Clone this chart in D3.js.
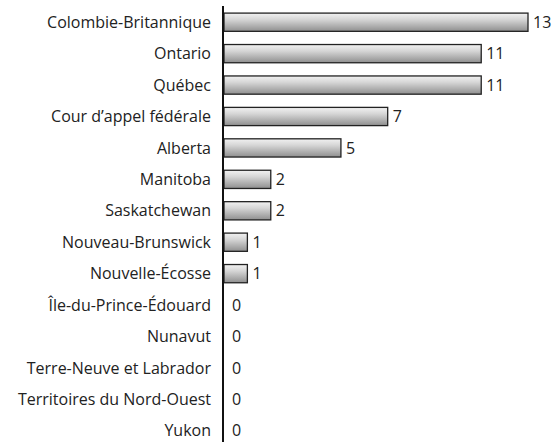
<!DOCTYPE html>
<html>
<head>
<meta charset="utf-8">
<script src="https://cdn.jsdelivr.net/npm/d3@7"></script>
<style>
  body { margin: 0; background: #fff; }
  text { font-family: "Open Sans", sans-serif; fill: #222; }
</style>
</head>
<body>
<svg id="chart" width="555" height="442"></svg>
<script>
const categories = [
    'Colombie-Britannique', 'Ontario', 'Québec', 'Cour d\u2019appel fédérale',
    'Alberta', 'Manitoba', 'Saskatchewan', 'Nouveau-Brunswick', 'Nouvelle-Écosse',
    'Île-du-Prince-Édouard', 'Nunavut', 'Terre-Neuve et Labrador',
    'Territoires du Nord-Ouest', 'Yukon'
];
const values = [13, 11, 11, 7, 5, 2, 2, 1, 1, 0, 0, 0, 0, 0];

const svg = d3.select('#chart');
const x0 = 224;

const x = d3.scaleLinear().domain([0, 13]).range([x0, 528]);
const y = d3.scaleBand().domain(categories).range([6.5, 446.5]);

// bar gradient: light on top, darker at the bottom
const grad = svg.append('defs').append('linearGradient')
    .attr('id', 'barGrad')
    .attr('x1', 0).attr('y1', 0).attr('x2', 0).attr('y2', 1);
grad.append('stop').attr('offset', '0%').attr('stop-color', '#f2f2f2');
grad.append('stop').attr('offset', '35%').attr('stop-color', '#d6d6d6');
grad.append('stop').attr('offset', '100%').attr('stop-color', '#8f8f8f');

const barH = y.bandwidth() * 0.58;

const rows = svg.selectAll('g.row')
    .data(categories)
    .join('g')
    .attr('class', 'row')
    .attr('transform', d => `translate(0,${y(d) + y.bandwidth() / 2})`);

rows.filter((d, i) => values[i] > 0)
    .append('rect')
    .attr('x', x(0))
    .attr('y', -barH / 2)
    .attr('width', d => x(values[categories.indexOf(d)]) - x(0))
    .attr('height', barH)
    .attr('fill', 'url(#barGrad)')
    .attr('stroke', '#222')
    .attr('stroke-width', 1.3);

rows.append('text')
    .attr('x', 211)
    .attr('dy', '0.35em')
    .attr('text-anchor', 'end')
    .style('font-size', '16px')
    .text(d => d);

rows.append('text')
    .attr('x', (d, i) => x(values[i]) + (values[i] > 0 ? 5 : 8))
    .attr('dy', '0.35em')
    .style('font-size', '16px')
    .text((d, i) => values[i]);

// axis line
svg.append('line')
    .attr('x1', x0 - 1).attr('x2', x0 - 1)
    .attr('y1', 6).attr('y2', 442)
    .attr('stroke', '#111')
    .attr('stroke-width', 2);
</script>
</body>
</html>
